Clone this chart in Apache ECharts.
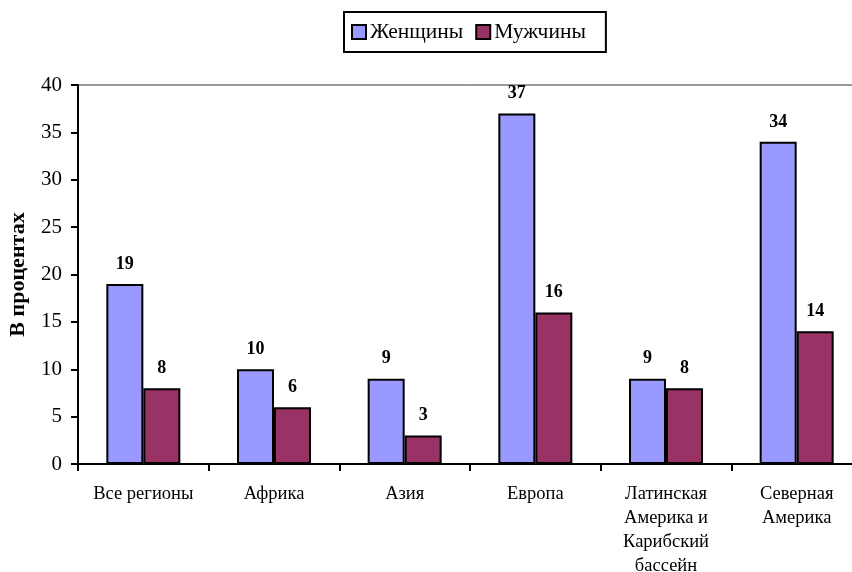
<!DOCTYPE html>
<html>
<head>
<meta charset="utf-8">
<script src="https://cdn.jsdelivr.net/npm/echarts@6/dist/echarts.min.js"></script>
<style>html,body{margin:0;padding:0;background:#fff}#c{width:852px;height:572px}</style>
</head>
<body>
<div id="c"></div>
<script>
var categories = ['Все регионы', 'Африка', 'Азия', 'Европа', 'Латинская\nАмерика и\nКарибский\nбассейн', 'Северная\nАмерика'];
var women = [19, 10, 9, 37, 9, 34];
var men = [8, 6, 3, 16, 8, 14];
var seriesNames = ['Женщины', 'Мужчины'];
var FONT = "'Liberation Serif', 'Times New Roman', serif";
var chart = echarts.init(document.getElementById('c'));
var labelCfg = {show: true, position: 'top', distance: 11, fontFamily: FONT, fontSize: 18, fontWeight: 'bold', color: '#000'};
chart.setOption({
  animation: false,
  textStyle: {fontFamily: FONT},
  legend: {
    data: seriesNames,
    top: 12, left: 344,
    padding: [9, 20, 9, 7],
    borderColor: '#000', borderWidth: 2,
    itemWidth: 14, itemHeight: 14, itemGap: 12,
    icon: 'rect',
    textStyle: {fontFamily: FONT, fontSize: 21.5, color: '#000', padding: [0, 0, 0, -1]}
  },
  grid: {left: 78, top: 85, right: -10, bottom: 108, outerBoundsMode: 'none', show: true, borderColor: '#333', borderWidth: 1, containLabel: false},
  xAxis: {
    type: 'category', data: categories,
    axisLine: {lineStyle: {color: '#000', width: 2}},
    axisTick: {show: true, length: 7, lineStyle: {color: '#000', width: 2}},
    axisLabel: {fontFamily: FONT, fontSize: 18.5, color: '#000', margin: 18, lineHeight: 24, interval: 0}
  },
  yAxis: {
    type: 'value', min: 0, max: 40, interval: 5,
    name: 'В процентах', nameLocation: 'middle', nameGap: 49,
    nameTextStyle: {fontFamily: FONT, fontSize: 22, fontWeight: 'bold', color: '#000'},
    axisLine: {show: true, lineStyle: {color: '#000', width: 2}},
    axisTick: {show: true, length: 7, lineStyle: {color: '#000', width: 2}},
    axisLabel: {fontFamily: FONT, fontSize: 21, color: '#000', margin: 16},
    splitLine: {show: false}
  },
  series: [
    {name: seriesNames[0], type: 'bar', data: women, barWidth: 37, barGap: '0%',
     itemStyle: {color: '#9999FF', borderColor: '#000', borderWidth: 2}, label: labelCfg},
    {name: seriesNames[1], type: 'bar', data: men, barWidth: 37, barGap: '0%',
     itemStyle: {color: '#993366', borderColor: '#000', borderWidth: 2}, label: labelCfg}
  ]
});
</script>
</body>
</html>
